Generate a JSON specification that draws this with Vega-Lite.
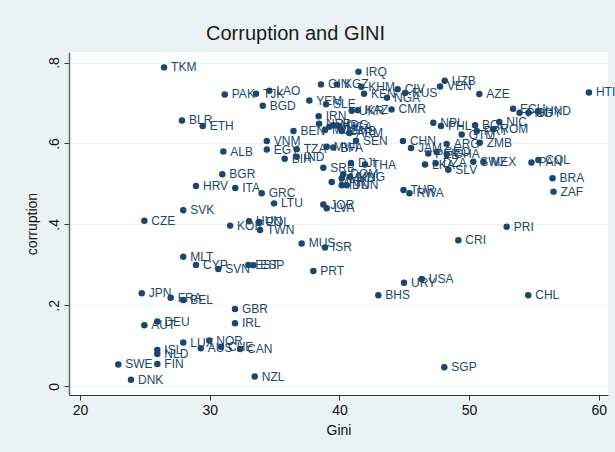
{
  "$schema": "https://vega.github.io/schema/vega-lite/v6.json",
  "width": 539,
  "height": 343,
  "autosize": {"type": "none"},
  "padding": {"left": 69, "top": 52, "right": 7, "bottom": 57},
  "background": "#EAF2F3",
  "config": {
    "view": {"stroke": null, "fill": "#FFFFFF"},
    "font": "Liberation Sans"
  },
  "title": {
    "text": "Corruption and GINI",
    "fontSize": 20,
    "fontWeight": "normal",
    "color": "#1a1a1a",
    "anchor": "middle",
    "dx": -43,
    "offset": 8
  },
  "data": {
    "values": [
      {"c": "TKM", "g": 26.48, "r": 0.788},
      {"c": "PAK", "g": 31.16, "r": 0.721},
      {"c": "TJK", "g": 33.57, "r": 0.723},
      {"c": "LAO", "g": 34.60, "r": 0.730},
      {"c": "BLR", "g": 27.86, "r": 0.657},
      {"c": "ETH", "g": 29.46, "r": 0.643},
      {"c": "ALB", "g": 31.05, "r": 0.580},
      {"c": "IRQ", "g": 41.47, "r": 0.777},
      {"c": "BGD", "g": 34.09, "r": 0.693},
      {"c": "YEM", "g": 37.68, "r": 0.706},
      {"c": "SLE", "g": 38.97, "r": 0.697},
      {"c": "GIN", "g": 38.58, "r": 0.746},
      {"c": "KGZ", "g": 39.81, "r": 0.746},
      {"c": "KHM", "g": 41.69, "r": 0.740},
      {"c": "KEN", "g": 41.90, "r": 0.723},
      {"c": "NGA", "g": 43.67, "r": 0.713},
      {"c": "CIV", "g": 44.49, "r": 0.734},
      {"c": "RUS", "g": 45.06, "r": 0.725},
      {"c": "UZB", "g": 48.12, "r": 0.755},
      {"c": "VEN", "g": 47.76, "r": 0.741},
      {"c": "AZE", "g": 50.79, "r": 0.722},
      {"c": "HTI", "g": 59.24, "r": 0.726},
      {"c": "UKR", "g": 40.95, "r": 0.681},
      {"c": "KAZ", "g": 41.43, "r": 0.682},
      {"c": "CMR", "g": 44.02, "r": 0.684},
      {"c": "IRN", "g": 38.40, "r": 0.667},
      {"c": "BEN", "g": 36.46, "r": 0.631},
      {"c": "NER", "g": 38.43, "r": 0.649},
      {"c": "MOZ", "g": 38.89, "r": 0.633},
      {"c": "MLI", "g": 39.22, "r": 0.641},
      {"c": "MDG", "g": 39.53, "r": 0.645},
      {"c": "UGA", "g": 39.99, "r": 0.641},
      {"c": "GMB", "g": 40.18, "r": 0.631},
      {"c": "ARM", "g": 40.76, "r": 0.626},
      {"c": "SEN", "g": 41.28, "r": 0.607},
      {"c": "MWI", "g": 39.02, "r": 0.592},
      {"c": "BFA", "g": 39.53, "r": 0.590},
      {"c": "VNM", "g": 34.40, "r": 0.606},
      {"c": "EGY", "g": 34.40, "r": 0.585},
      {"c": "TZA", "g": 36.71, "r": 0.586},
      {"c": "BIH", "g": 35.78, "r": 0.562},
      {"c": "IND", "g": 36.71, "r": 0.567},
      {"c": "CHN", "g": 44.90, "r": 0.606},
      {"c": "JAM", "g": 45.52, "r": 0.589},
      {"c": "SRB", "g": 38.76, "r": 0.540},
      {"c": "DJI", "g": 40.89, "r": 0.552},
      {"c": "THA", "g": 41.97, "r": 0.548},
      {"c": "DOM", "g": 40.30, "r": 0.524},
      {"c": "MKD", "g": 40.18, "r": 0.514},
      {"c": "MNG", "g": 40.82, "r": 0.518},
      {"c": "MAR", "g": 39.41, "r": 0.505},
      {"c": "IDN", "g": 40.18, "r": 0.497},
      {"c": "TUN", "g": 40.56, "r": 0.497},
      {"c": "TUR", "g": 44.94, "r": 0.485},
      {"c": "RWA", "g": 45.40, "r": 0.477},
      {"c": "NPL", "g": 47.24, "r": 0.651},
      {"c": "PHL", "g": 47.83, "r": 0.643},
      {"c": "BOL", "g": 50.46, "r": 0.645},
      {"c": "PRY", "g": 50.59, "r": 0.631},
      {"c": "ROM", "g": 51.87, "r": 0.635},
      {"c": "NIC", "g": 52.33, "r": 0.653},
      {"c": "GTM", "g": 49.43, "r": 0.622},
      {"c": "ZMB", "g": 50.82, "r": 0.602},
      {"c": "ARG", "g": 48.27, "r": 0.599},
      {"c": "PER", "g": 46.85, "r": 0.575},
      {"c": "GEO", "g": 47.50, "r": 0.579},
      {"c": "GHA", "g": 48.27, "r": 0.574},
      {"c": "LKA", "g": 46.60, "r": 0.548},
      {"c": "DZA", "g": 47.42, "r": 0.551},
      {"c": "SLV", "g": 48.40, "r": 0.535},
      {"c": "SWZ", "g": 50.32, "r": 0.555},
      {"c": "MEX", "g": 51.10, "r": 0.555},
      {"c": "ECU", "g": 53.39, "r": 0.686},
      {"c": "PNG", "g": 53.89, "r": 0.676},
      {"c": "GUY", "g": 54.58, "r": 0.676},
      {"c": "HND", "g": 55.31, "r": 0.679},
      {"c": "PAN", "g": 54.81, "r": 0.553},
      {"c": "COL", "g": 55.34, "r": 0.559},
      {"c": "BRA", "g": 56.43, "r": 0.514},
      {"c": "ZAF", "g": 56.51, "r": 0.481},
      {"c": "PRI", "g": 52.90, "r": 0.394},
      {"c": "CRI", "g": 49.17, "r": 0.361},
      {"c": "URY", "g": 44.98, "r": 0.256},
      {"c": "USA", "g": 46.35, "r": 0.265},
      {"c": "BHS", "g": 43.00, "r": 0.225},
      {"c": "CHL", "g": 54.56, "r": 0.225},
      {"c": "SGP", "g": 48.09, "r": 0.047},
      {"c": "BGR", "g": 30.97, "r": 0.524},
      {"c": "HRV", "g": 28.94, "r": 0.495},
      {"c": "ITA", "g": 31.97, "r": 0.490},
      {"c": "GRC", "g": 34.01, "r": 0.477},
      {"c": "LTU", "g": 34.96, "r": 0.452},
      {"c": "JOR", "g": 38.76, "r": 0.449},
      {"c": "LVA", "g": 39.02, "r": 0.440},
      {"c": "SVK", "g": 27.96, "r": 0.435},
      {"c": "CZE", "g": 24.96, "r": 0.409},
      {"c": "KOR", "g": 31.57, "r": 0.397},
      {"c": "HUN", "g": 33.03, "r": 0.408},
      {"c": "POL", "g": 33.80, "r": 0.406},
      {"c": "TWN", "g": 33.88, "r": 0.386},
      {"c": "MUS", "g": 37.09, "r": 0.353},
      {"c": "ISR", "g": 38.89, "r": 0.343},
      {"c": "MLT", "g": 27.96, "r": 0.320},
      {"c": "CYP", "g": 28.94, "r": 0.300},
      {"c": "SVN", "g": 30.66, "r": 0.290},
      {"c": "EST", "g": 32.98, "r": 0.300},
      {"c": "ESP", "g": 33.36, "r": 0.299},
      {"c": "PRT", "g": 37.99, "r": 0.285},
      {"c": "JPN", "g": 24.76, "r": 0.230},
      {"c": "FRA", "g": 26.99, "r": 0.219},
      {"c": "BEL", "g": 27.96, "r": 0.213},
      {"c": "GBR", "g": 31.95, "r": 0.191},
      {"c": "DEU", "g": 25.96, "r": 0.160},
      {"c": "AUT", "g": 24.96, "r": 0.151},
      {"c": "IRL", "g": 31.95, "r": 0.156},
      {"c": "LUX", "g": 27.96, "r": 0.108},
      {"c": "NOR", "g": 29.97, "r": 0.113},
      {"c": "AUS", "g": 29.31, "r": 0.094},
      {"c": "CHE", "g": 30.87, "r": 0.098},
      {"c": "CAN", "g": 32.34, "r": 0.092},
      {"c": "ISL", "g": 25.96, "r": 0.090},
      {"c": "NLD", "g": 25.96, "r": 0.080},
      {"c": "SWE", "g": 22.95, "r": 0.054},
      {"c": "FIN", "g": 25.96, "r": 0.055},
      {"c": "DNK", "g": 23.93, "r": 0.016},
      {"c": "NZL", "g": 33.47, "r": 0.024}
    ]
  },
  "encoding": {
    "x": {
      "field": "g",
      "type": "quantitative",
      "title": "Gini",
      "scale": {"domain": [19.15, 60.71], "nice": false, "zero": false},
      "axis": {
        "values": [20, 30, 40, 50, 60],
        "grid": false,
        "domainColor": "#333333",
        "tickColor": "#333333",
        "tickSize": 5,
        "labelFontSize": 14,
        "labelColor": "#111111",
        "labelPadding": 3,
        "titleFontSize": 14,
        "titleFontWeight": "normal",
        "titleColor": "#111111",
        "titlePadding": 6
      }
    },
    "y": {
      "field": "r",
      "type": "quantitative",
      "title": "corruption",
      "scale": {"domain": [-0.0215, 0.826], "nice": false, "zero": false},
      "axis": {
        "values": [0, 0.2, 0.4, 0.6, 0.8],
        "labelExpr": "datum.value == 0 ? '0' : replace(format(datum.value, '.1f'), '0.', '.')",
        "grid": true,
        "gridColor": "#EAF2F3",
        "gridWidth": 1,
        "domainColor": "#666666",
        "domainWidth": 1.5,
        "tickColor": "#333333",
        "tickSize": 5,
        "labelAngle": 270,
        "labelAlign": "center",
        "labelBaseline": "bottom",
        "labelFontSize": 14,
        "labelColor": "#111111",
        "labelPadding": 3,
        "titleFontSize": 14,
        "titleFontWeight": "normal",
        "titleColor": "#111111",
        "titlePadding": 8
      }
    }
  },
  "layer": [
    {
      "mark": {"type": "point", "filled": true, "size": 42, "opacity": 1, "color": "#1A476F"}
    },
    {
      "mark": {"type": "text", "align": "left", "baseline": "middle", "dx": 7, "fontSize": 12, "color": "#1A476F"},
      "encoding": {"text": {"field": "c"}}
    }
  ]
}
